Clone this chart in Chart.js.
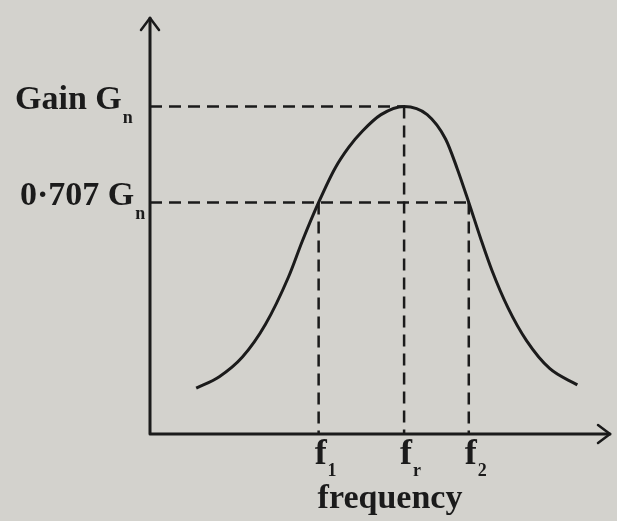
<!DOCTYPE html>
<html>
<head>
<meta charset="utf-8">
<script src="https://cdn.jsdelivr.net/npm/chart.js@4.4.1/dist/chart.umd.min.js"></script>
<style>
  html, body { margin: 0; padding: 0; background: #d3d2cd; }
  canvas { display: block; }
</style>
</head>
<body>
<canvas id="chart" width="617" height="521"></canvas>
<script>
// band-pass response: frequency in arbitrary units, gain relative to Gn
const freq = [1.0, 1.5, 2.0, 2.5, 3.0, 3.3, 3.65, 4.0, 4.3, 4.6, 5.0, 5.5,
              6.0, 6.4, 6.65, 6.9, 7.15, 7.4, 7.75, 8.15, 8.65, 9.25];
const gain = [0.14, 0.175, 0.235, 0.335, 0.48, 0.59, 0.707, 0.81, 0.875, 0.925, 0.975, 1.0,
              0.975, 0.90, 0.81, 0.707, 0.60, 0.50, 0.385, 0.285, 0.20, 0.15];

// reference levels on the gain axis
const gainLevels = [1, 0.707];
const gainLabels = [["Gain G", "n"], ["0·707 G", "n"]];

// marked frequencies: lower cut-off, resonance, upper cut-off
const markerFreqs = [3.65, 5.5, 6.9];
const markerGains = [0.707, 1, 0.707];
const markerLabels = [["f", "1"], ["f", "r"], ["f", "2"]];

const axisTitle = "frequency";

const ink = "#1b1b1b";
const dash = [12, 7];

const dashed = (data) => ({
  data: data,
  showLine: true,
  borderColor: ink,
  borderWidth: 2.5,
  borderDash: dash,
  pointRadius: 0,
  tension: 0
});

const datasets = [];

// horizontal guides run from the axis to the last marker on that level
gainLevels.forEach((level) => {
  const reach = Math.max(...markerFreqs.filter((f, i) => markerGains[i] === level));
  datasets.push(dashed([{ x: 0, y: level }, { x: reach, y: level }]));
});

// vertical guides drop from the curve to the frequency axis
markerFreqs.forEach((f, i) => {
  datasets.push(dashed([{ x: f, y: markerGains[i] }, { x: f, y: 0 }]));
});

datasets.push({
  data: freq.map((f, i) => ({ x: f, y: gain[i] })),
  showLine: true,
  borderColor: ink,
  borderWidth: 3,
  pointRadius: 0,
  cubicInterpolationMode: "monotone"
});

const serif = "'Liberation Serif', 'DejaVu Serif', serif";

function labelWithSub(ctx, text, sub, x, y, size, subSize, subDrop, align) {
  ctx.font = "bold " + size + "px " + serif;
  const w = ctx.measureText(text).width;
  let left = x;
  if (align === "center") left = x - w / 2;
  ctx.textAlign = "left";
  ctx.fillText(text, left, y);
  ctx.font = "bold " + subSize + "px " + serif;
  ctx.fillText(sub, left + w + 1, y + subDrop);
}

const axesPlugin = {
  id: "axesPlugin",
  afterDraw(chart) {
    const ctx = chart.ctx;
    const xs = chart.scales.x;
    const ys = chart.scales.y;
    const x0 = xs.getPixelForValue(0);
    const y0 = ys.getPixelForValue(0);
    const xEnd = xs.right;
    const yTop = ys.top;

    ctx.save();
    ctx.strokeStyle = ink;
    ctx.fillStyle = ink;
    ctx.lineWidth = 3;
    ctx.lineCap = "round";
    ctx.lineJoin = "round";

    // axes
    ctx.beginPath();
    ctx.moveTo(x0, y0);
    ctx.lineTo(x0, yTop);
    ctx.moveTo(x0, y0);
    ctx.lineTo(xEnd - 2, y0);
    ctx.stroke();

    // arrow heads
    ctx.lineWidth = 2.5;
    ctx.beginPath();
    ctx.moveTo(x0 - 9, yTop + 12);
    ctx.lineTo(x0, yTop);
    ctx.lineTo(x0 + 9, yTop + 12);
    ctx.moveTo(xEnd - 14, y0 - 9);
    ctx.lineTo(xEnd - 2, y0);
    ctx.lineTo(xEnd - 14, y0 + 9);
    ctx.stroke();

    // gain labels
    const labelLeft = [15, 20];
    gainLevels.forEach((level, i) => {
      const py = ys.getPixelForValue(level);
      labelWithSub(ctx, gainLabels[i][0], gainLabels[i][1], labelLeft[i], py + 3, 34, 18, 14, "left");
    });

    // frequency markers
    markerFreqs.forEach((f, i) => {
      const px = xs.getPixelForValue(f);
      labelWithSub(ctx, markerLabels[i][0], markerLabels[i][1], px + 2, y0 + 30, 36, 18, 12, "center");
    });

    ctx.font = "bold 34px " + serif;
    ctx.textAlign = "center";
    ctx.fillText(axisTitle, 390, 508);
    ctx.restore();
  }
};

new Chart(document.getElementById("chart"), {
  type: "scatter",
  data: { datasets: datasets },
  options: {
    responsive: false,
    animation: false,
    layout: { padding: { left: 150, right: 5, top: 18, bottom: 87 } },
    plugins: { legend: { display: false }, tooltip: { enabled: false } },
    scales: {
      x: { type: "linear", min: 0, max: 10, display: false },
      y: { type: "linear", min: 0, max: 1.27, display: false }
    }
  },
  plugins: [axesPlugin]
});
</script>
</body>
</html>
